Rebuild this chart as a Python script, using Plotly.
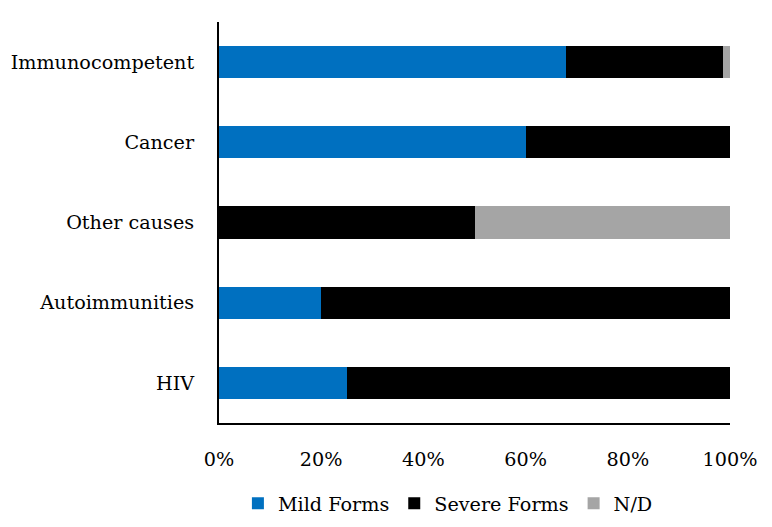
import plotly.graph_objects as go

categories = ["HIV", "Autoimmunities", "Other causes", "Cancer", "Immunocompetent"]
mild = [25, 20, 0, 60, 68]
severe = [75, 80, 50, 40, 30.7]
nd = [0, 0, 50, 0, 1.3]

series = [
    ("Mild Forms", mild, "#0070C0"),
    ("Severe Forms", severe, "#000000"),
    ("N/D", nd, "#A5A5A5"),
]

FONT = "DejaVu Serif"
SIZE = 19.2

fig = go.Figure()
for name, values, color in series:
    fig.add_trace(go.Bar(
        y=categories, x=values, name=name, orientation="h",
        marker=dict(color=color, line=dict(width=0)),
    ))

# page body has an 8px margin, so the margins are offset by that
fig.update_layout(
    barmode="stack",
    bargap=0.6,
    width=772, height=527,
    margin=dict(l=211, r=50, t=14, b=112),
    plot_bgcolor="white", paper_bgcolor="white",
    font=dict(family=FONT, size=SIZE, color="#000000"),
    legend=dict(
        orientation="h", x=0.037, xanchor="left", y=-0.2, yanchor="middle",
        font=dict(size=SIZE), itemwidth=30, traceorder="normal",
    ),
)
fig.update_xaxes(
    range=[0, 100], tickvals=[0, 20, 40, 60, 80, 100],
    ticktext=["0%", "20%", "40%", "60%", "80%", "100%"],
    showgrid=False, zeroline=False, showline=True, linecolor="black", linewidth=2,
    ticks="", ticklabelstandoff=18, automargin=False,
)
fig.update_yaxes(
    showgrid=False, zeroline=False, showline=True, linecolor="black", linewidth=2,
    ticks="", ticklabelstandoff=19, automargin=False,
)

fig.write_html("out.html")
